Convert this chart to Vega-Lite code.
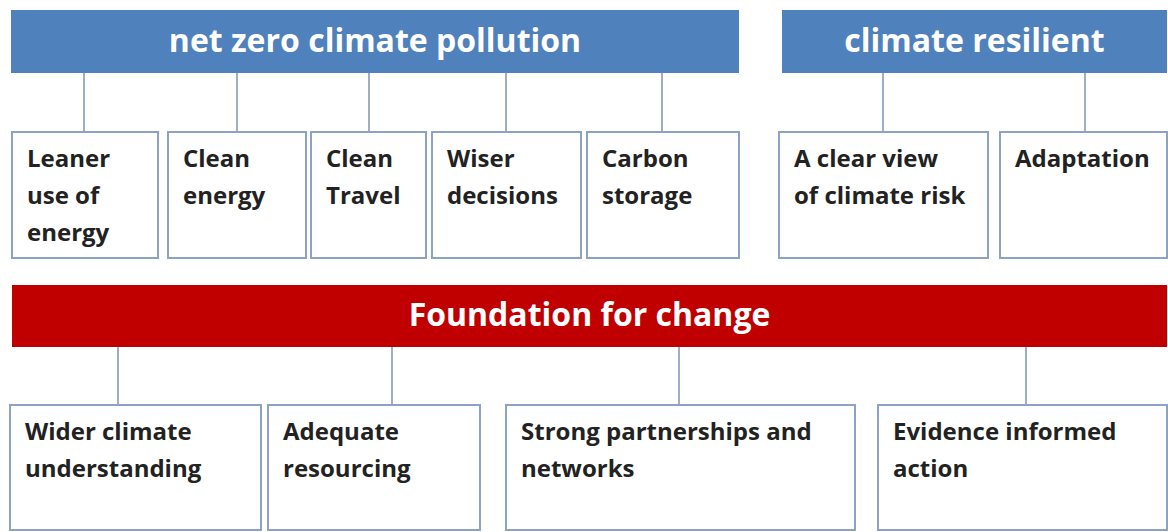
{
  "$schema": "https://vega.github.io/schema/vega-lite/v6.json",
  "width": 1168,
  "height": 532,
  "padding": 0,
  "autosize": {"type": "fit", "contains": "padding"},
  "background": "white",
  "config": {"view": {"stroke": null}},
  "datasets": {
    "headers": [
      {"label": "net zero climate pollution", "x1": 11, "x2": 739, "y1": 10, "y2": 73, "kind": "blue"},
      {"label": "climate resilient", "x1": 782, "x2": 1167, "y1": 10, "y2": 73, "kind": "blue"},
      {"label": "Foundation for change", "x1": 12, "x2": 1167, "y1": 285, "y2": 347, "kind": "red"}
    ],
    "boxes": [
      {"label": "Leaner|use of|energy", "x1": 12, "x2": 158, "y1": 132, "y2": 258},
      {"label": "Clean|energy", "x1": 168, "x2": 306, "y1": 132, "y2": 258},
      {"label": "Clean|Travel", "x1": 311, "x2": 426, "y1": 132, "y2": 258},
      {"label": "Wiser|decisions", "x1": 432, "x2": 581, "y1": 132, "y2": 258},
      {"label": "Carbon|storage", "x1": 587, "x2": 739, "y1": 132, "y2": 258},
      {"label": "A clear view|of climate risk", "x1": 779, "x2": 988, "y1": 132, "y2": 258},
      {"label": "Adaptation", "x1": 1000, "x2": 1167, "y1": 132, "y2": 258},
      {"label": "Wider climate|understanding", "x1": 10, "x2": 261, "y1": 405, "y2": 530},
      {"label": "Adequate|resourcing", "x1": 268, "x2": 480, "y1": 405, "y2": 530},
      {"label": "Strong partnerships and|networks", "x1": 506, "x2": 855, "y1": 405, "y2": 530},
      {"label": "Evidence informed|action", "x1": 878, "x2": 1167, "y1": 405, "y2": 530}
    ],
    "links": [
      {"x": 84, "y1": 73, "y2": 132},
      {"x": 237, "y1": 73, "y2": 132},
      {"x": 369, "y1": 73, "y2": 132},
      {"x": 506, "y1": 73, "y2": 132},
      {"x": 662, "y1": 73, "y2": 132},
      {"x": 883, "y1": 73, "y2": 132},
      {"x": 1085, "y1": 73, "y2": 132},
      {"x": 118, "y1": 347, "y2": 405},
      {"x": 392, "y1": 347, "y2": 405},
      {"x": 679, "y1": 347, "y2": 405},
      {"x": 1026, "y1": 347, "y2": 405}
    ]
  },
  "layer": [
    {
      "data": {"name": "links"},
      "mark": {"type": "rule", "color": "#7f93b3", "strokeWidth": 1.5},
      "encoding": {
        "x": {"field": "x", "type": "quantitative", "scale": {"domain": [0, 1168], "nice": false, "zero": false}, "axis": null},
        "y": {"field": "y1", "type": "quantitative", "scale": {"domain": [0, 532], "nice": false, "zero": false, "reverse": true}, "axis": null},
        "y2": {"field": "y2"}
      }
    },
    {
      "data": {"name": "headers"},
      "mark": {"type": "rect"},
      "encoding": {
        "x": {"field": "x1", "type": "quantitative", "scale": {"domain": [0, 1168], "nice": false, "zero": false}, "axis": null},
        "x2": {"field": "x2"},
        "y": {"field": "y1", "type": "quantitative", "scale": {"domain": [0, 532], "nice": false, "zero": false, "reverse": true}, "axis": null},
        "y2": {"field": "y2"},
        "color": {"field": "kind", "type": "nominal", "scale": {"domain": ["blue", "red"], "range": ["#4f81bd", "#c00000"]}, "legend": null}
      }
    },
    {
      "data": {"name": "headers"},
      "transform": [{"calculate": "(datum.x1 + datum.x2) / 2", "as": "cx"}, {"calculate": "(datum.y1 + datum.y2) / 2", "as": "cy"}],
      "mark": {"type": "text", "color": "white", "font": "Open Sans", "fontWeight": "bold", "fontSize": 32, "align": "center", "baseline": "middle"},
      "encoding": {
        "x": {"field": "cx", "type": "quantitative", "scale": {"domain": [0, 1168], "nice": false, "zero": false}, "axis": null},
        "y": {"field": "cy", "type": "quantitative", "scale": {"domain": [0, 532], "nice": false, "zero": false, "reverse": true}, "axis": null},
        "text": {"field": "label"}
      }
    },
    {
      "data": {"name": "boxes"},
      "mark": {"type": "rect", "fill": "white", "stroke": "#8ea2c4", "strokeWidth": 2},
      "encoding": {
        "x": {"field": "x1", "type": "quantitative", "scale": {"domain": [0, 1168], "nice": false, "zero": false}, "axis": null},
        "x2": {"field": "x2"},
        "y": {"field": "y1", "type": "quantitative", "scale": {"domain": [0, 532], "nice": false, "zero": false, "reverse": true}, "axis": null},
        "y2": {"field": "y2"}
      }
    },
    {
      "data": {"name": "boxes"},
      "transform": [{"calculate": "datum.x1 + 15", "as": "tx"}, {"calculate": "datum.y1 + 16", "as": "ty"}],
      "mark": {"type": "text", "color": "#222222", "font": "Open Sans", "fontWeight": "bold", "fontSize": 24, "align": "left", "baseline": "top", "lineBreak": "|", "lineHeight": 37},
      "encoding": {
        "x": {"field": "tx", "type": "quantitative", "scale": {"domain": [0, 1168], "nice": false, "zero": false}, "axis": null},
        "y": {"field": "ty", "type": "quantitative", "scale": {"domain": [0, 532], "nice": false, "zero": false, "reverse": true}, "axis": null},
        "text": {"field": "label"}
      }
    }
  ]
}
